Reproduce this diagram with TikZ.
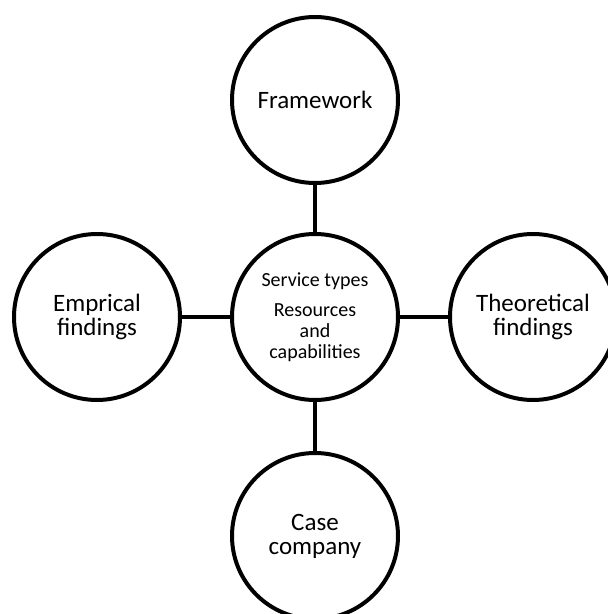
\documentclass[tikz,border=0pt]{standalone}
\usepackage{fontspec}
\setmainfont{Carlito}
\begin{document}
\begin{tikzpicture}[x=1pt,y=1pt,
  topic/.style={circle, draw=black, line width=4pt, minimum size=166pt,
    inner sep=0pt, align=center, font=\fontsize{25}{24}\selectfont},
  hub/.style={topic, font=\fontsize{20}{21}\selectfont},
  link/.style={draw=black, line width=4pt}]
  \useasboundingbox (0,0) rectangle (608,614);
  \clip (0,0) rectangle (608,614);
  % hub and the four surrounding topics
  \node[hub] (core) at (315,297) {Service types\\[9pt]Resources\\and\\capabilities};
  \node[topic] (frame) at (315,514) {Framework};
  \node[topic] (emp) at (97,297) {Emprical\\findings};
  \node[topic] (theo) at (533,297) {Theoretical\\findings};
  \node[topic] (case) at (315,78) {Case\\company};
  % spokes
  \draw[link] (frame) -- (core);
  \draw[link] (emp) -- (core);
  \draw[link] (core) -- (theo);
  \draw[link] (core) -- (case);
\end{tikzpicture}
\end{document}
